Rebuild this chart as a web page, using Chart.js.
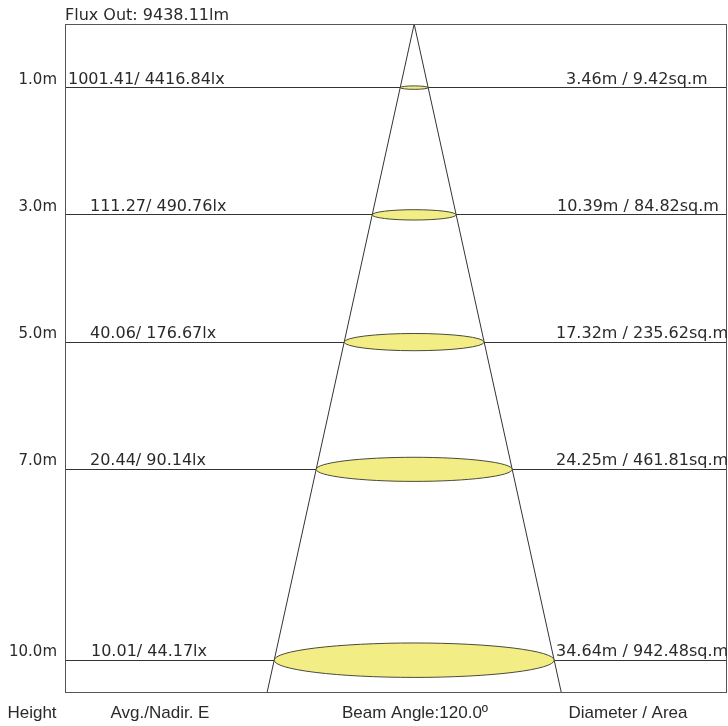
<!DOCTYPE html>
<html>
<head>
<meta charset="utf-8">
<script src="https://cdn.jsdelivr.net/npm/chart.js@4"></script>
<style>
html,body{margin:0;padding:0;background:#fff;}
#wrap{width:728px;height:726px;position:relative;}
</style>
</head>
<body>
<div id="wrap"><canvas id="c"></canvas></div>
<script>
// ---- data ----
const heights = [1, 3, 5, 7, 10];
const heightLabels = ['1.0m', '3.0m', '5.0m', '7.0m', '10.0m'];
const illuminanceLabels = ['1001.41/ 4416.84lx', '111.27/ 490.76lx', '40.06/ 176.67lx', '20.44/ 90.14lx', '10.01/ 44.17lx'];
const diameters = [3.46, 10.39, 17.32, 24.25, 34.64];
const diameterLabels = ['3.46m / 9.42sq.m', '10.39m / 84.82sq.m', '17.32m / 235.62sq.m', '24.25m / 461.81sq.m', '34.64m / 942.48sq.m'];
const fluxLabel = 'Flux Out: 9438.11lm';
const footerLabels = ['Height', 'Avg./Nadir. E', 'Beam Angle:120.0º', 'Diameter / Area'];

// ---- layout / style ----
const Y_MAX = 10.5, X_MIN = -43.2, X_MAX = 38.7;
const leftLabelX = [68, 90, 90, 90, 91];
const rightLabelX = [566, 557, 556, 556, 556];
const footerX = [32, 160, 415, 628];
const MAIN_FONT = '16px "DejaVu Sans", Verdana, sans-serif';
const FOOT_FONT = '17px "Liberation Sans", Arial, sans-serif';
const TEXT_COLOR = '#2a2a2a';
const LINE_COLOR = '#333';

const lastH = heights[heights.length - 1];
const lastR = diameters[diameters.length - 1] / 2;
const edgeExt = lastR * (Y_MAX + 0.5) / lastH;
function edge(sign) {
  const pts = [{x: 0, y: 0}];
  heights.forEach((h, i) => pts.push({x: sign * diameters[i] / 2, y: h}));
  pts.push({x: sign * edgeExt, y: Y_MAX + 0.5});
  return pts;
}

const annotatePlugin = {
  id: 'beamDecor',
  afterDatasetsDraw(chart) {
    const ctx = chart.ctx, xs = chart.scales.x, ys = chart.scales.y, a = chart.chartArea;
    ctx.save();
    // ellipses
    heights.forEach((h, i) => {
      const cx = xs.getPixelForValue(0), cy = ys.getPixelForValue(h);
      const rx = xs.getPixelForValue(diameters[i] / 2) - cx;
      const ry = rx * 0.123;
      ctx.beginPath();
      ctx.ellipse(cx, cy, rx, ry, 0, 0, Math.PI * 2);
      ctx.fillStyle = '#f2ed84';
      ctx.fill();
      ctx.lineWidth = 1;
      ctx.strokeStyle = '#4a4a3a';
      ctx.stroke();
    });
    // frame
    ctx.strokeStyle = '#555';
    ctx.lineWidth = 1;
    ctx.strokeRect(Math.round(a.left) + 0.5, Math.round(a.top) + 0.5, Math.round(a.right - a.left) - 1, Math.round(a.bottom - a.top));
    // labels
    ctx.fillStyle = TEXT_COLOR;
    ctx.font = MAIN_FONT;
    ctx.textBaseline = 'alphabetic';
    ctx.textAlign = 'left';
    ctx.fillText(fluxLabel, a.left, 20);
    heights.forEach((h, i) => {
      const y = ys.getPixelForValue(h) - 4;
      ctx.fillText(illuminanceLabels[i], leftLabelX[i], y);
      ctx.fillText(diameterLabels[i], rightLabelX[i], y);
    });
    ctx.font = FOOT_FONT;
    ctx.textAlign = 'center';
    footerLabels.forEach((t, i) => ctx.fillText(t, footerX[i], 718));
    ctx.restore();
  }
};

new Chart(document.getElementById('c'), {
  type: 'scatter',
  data: {
    datasets: [
      {data: edge(-1), showLine: true, borderColor: LINE_COLOR, borderWidth: 1, pointRadius: 0, tension: 0},
      {data: edge(1), showLine: true, borderColor: LINE_COLOR, borderWidth: 1, pointRadius: 0, tension: 0}
    ]
  },
  options: {
    responsive: true,
    maintainAspectRatio: false,
    animation: false,
    layout: {padding: {top: 24, bottom: 34, right: 1, left: 0}},
    plugins: {legend: {display: false}, tooltip: {enabled: false}},
    scales: {
      x: {type: 'linear', min: X_MIN, max: X_MAX, display: false},
      y: {
        type: 'linear', min: 0, max: Y_MAX, reverse: true,
        afterBuildTicks(scale) { scale.ticks = heights.map(v => ({value: v})); },
        afterFit(scale) { scale.width = 65; },
        ticks: {
          callback: (v, i) => heightLabels[i],
          color: TEXT_COLOR,
          font: {family: '"DejaVu Sans", Verdana, sans-serif', size: 15},
          padding: 8,
          labelOffset: -8,
          autoSkip: false
        },
        grid: {color: LINE_COLOR, lineWidth: 1, drawTicks: false},
        border: {display: false}
      }
    }
  },
  plugins: [annotatePlugin]
});
</script>
</body>
</html>
